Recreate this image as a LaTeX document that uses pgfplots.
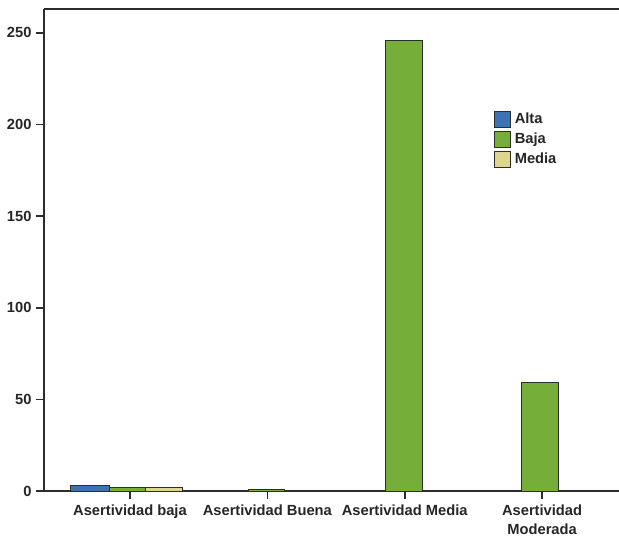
\documentclass[border=0pt]{standalone}
\usepackage{pgfplots}
\pgfplotsset{compat=1.18}
\usepackage{fontspec}
\setmainfont{Liberation Sans}
\definecolor{cAlta}{RGB}{61,115,180}
\definecolor{cBaja}{RGB}{118,174,58}
\definecolor{cMedia}{RGB}{222,213,142}
\definecolor{txt}{RGB}{38,38,38}
\definecolor{ln}{RGB}{45,45,45}
\begin{document}
\begin{tikzpicture}
\begin{axis}[
  scale only axis,
  width=575bp, height=482bp,
  xmin=-0.626, xmax=3.56,
  ymin=0, ymax=263,
  axis x line*=box,
  axis y line*=left,
  xtick pos=bottom, ytick pos=left,
  tick align=outside,
  major tick length=8bp,
  every tick/.style={ln, line width=1.6bp},
  axis line style={ln, line width=1.4bp},
  xtick={0,1,2,3},
  xticklabels={Asertividad baja, Asertividad Buena, Asertividad Media, {Asertividad\\Moderada}},
  ytick={0,50,100,150,200,250},
  /pgf/number format/assume math mode=true,
  tick label style={font=\bfseries\fontsize{14.7bp}{19bp}\selectfont, text=txt},
  x tick label style={align=center, yshift=-2.5bp},
  y tick label style={xshift=-1bp},
  ybar, bar width=0.266,
  legend cell align=left,
  legend style={draw=none, fill=none, at={(rel axis cs:0.782,0.789)}, anchor=north west,
    font=\bfseries\fontsize{14.7bp}{17bp}\selectfont, text=txt,
    inner sep=0pt, row sep=3bp, nodes={inner sep=1.5bp},
    /tikz/every odd column/.append style={column sep=2.5bp}},
]
\addplot[bar shift=0pt, bar width=0.285, fill=cAlta, draw=ln, line width=0.9bp,
  legend image code/.code={\draw[fill=cAlta, draw=ln, line width=0.9bp] (0bp,-8bp) rectangle (16bp,8bp);}]
  coordinates {(-0.289,3)};
\addlegendentry{Alta}
\addplot[bar shift=0pt, fill=cBaja, draw=ln, line width=0.9bp,
  legend image code/.code={\draw[fill=cBaja, draw=ln, line width=0.9bp] (0bp,-8bp) rectangle (16bp,8bp);}]
  coordinates {(-0.015,2) (0.995,1) (1.993,246) (2.983,59)};
\addlegendentry{Baja}
\addplot[bar shift=0pt, fill=cMedia, draw=ln, line width=0.9bp,
  legend image code/.code={\draw[fill=cMedia, draw=ln, line width=0.9bp] (0bp,-8bp) rectangle (16bp,8bp);}]
  coordinates {(0.248,2)};
\addlegendentry{Media}
\end{axis}
\pgfresetboundingbox
\path[use as bounding box] (-44bp,-46bp) rectangle (575bp,491bp);
\end{tikzpicture}
\end{document}
